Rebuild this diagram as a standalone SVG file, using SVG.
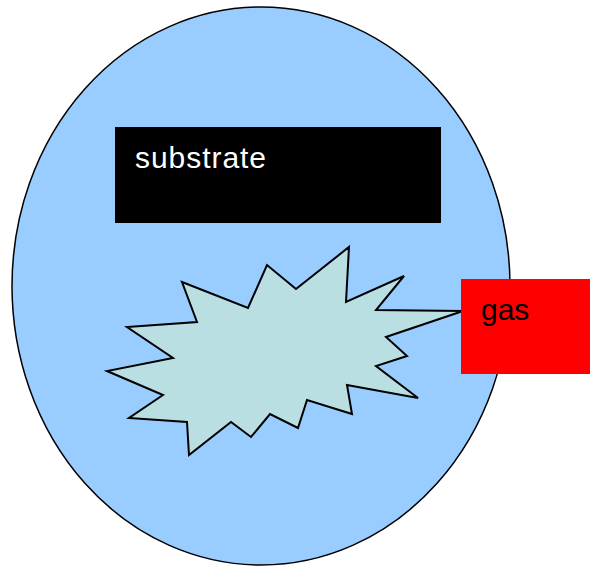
<svg xmlns="http://www.w3.org/2000/svg" width="590" height="567" viewBox="0 0 590 567">
<style>
.lbl{font-family:"Liberation Sans",Arial,sans-serif;font-size:30px}
</style>
<rect width="590" height="567" fill="#ffffff"/>
<g id="cell">
<ellipse cx="261" cy="286" rx="249" ry="279" fill="#99ccff" stroke="#000" stroke-width="1.5"/>
</g>
<g id="substrate">
<rect x="115" y="127" width="326" height="96" fill="#000"/>
<text class="lbl" x="135" y="168" fill="#fff" textLength="131">substrate</text>
</g>
<g id="burst">
<polygon points="182,282 248,308 267,265 296,289 349,247 346,302 404,276 376,310 463,311 386,337 407,356 376,366 418,398 347,385 352,414 307,400 298,428 270,414 251,437 231,422 189,455 187,422 129,418 163,395 107,371 173,358 127,327 197,322" fill="#b9dfe3" stroke="#000" stroke-width="2" stroke-linejoin="miter"/>
</g>
<g id="gas">
<rect x="461" y="279" width="129" height="95" fill="#ff0000"/>
<text class="lbl" x="481" y="320" fill="#000">gas</text>
</g>
<g id="connectors"></g>
</svg>
